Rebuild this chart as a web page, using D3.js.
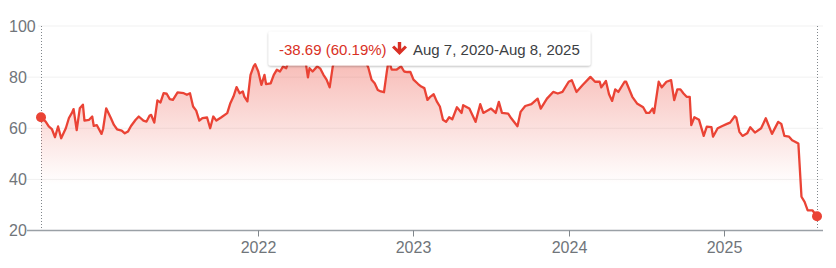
<!DOCTYPE html>
<html lang="en">
  <head>
    <meta charset="utf-8">
    <title>Price 5Y</title>
    <script src="https://d3js.org/d3.v7.min.js"></script>
    <style>
      body { margin: 0; background: #fff; }
      svg text { font-family: 'Liberation Sans', Arial, sans-serif; }
    </style>
  </head>

  <body>
    <div id='chart'></div>

    <script type='text/javascript'>
      // time as decimal years, price
      let years = [2020.60,2020.63,2020.65,2020.67,2020.69,2020.71,2020.73,2020.76,2020.78,2020.80,
                   2020.81,2020.83,2020.85,2020.87,2020.88,2020.91,2020.93,2020.94,2020.96,2020.99,
                   2021.00,2021.02,2021.05,2021.07,2021.09,2021.12,2021.14,2021.16,2021.18,2021.21,
                   2021.23,2021.26,2021.28,2021.30,2021.31,2021.33,2021.35,2021.37,2021.39,2021.41,
                   2021.43,2021.45,2021.48,2021.52,2021.54,2021.56,2021.58,2021.60,2021.62,2021.64,
                   2021.67,2021.69,2021.71,2021.73,2021.76,2021.80,2021.82,2021.84,2021.86,2021.88,
                   2021.90,2021.91,2021.93,2021.95,2021.97,2021.98,2022.00,2022.02,2022.04,2022.05,
                   2022.08,2022.10,2022.12,2022.14,2022.16,2022.18,2022.20,2022.24,2022.27,2022.30,
                   2022.32,2022.33,2022.35,2022.38,2022.40,2022.42,2022.44,2022.46,2022.48,2022.51,
                   2022.56,2022.60,2022.64,2022.68,2022.71,2022.73,2022.75,2022.77,2022.79,2022.81,
                   2022.83,2022.84,2022.86,2022.89,2022.92,2022.94,2022.96,2022.98,2023.00,2023.03,
                   2023.05,2023.07,2023.09,2023.11,2023.13,2023.15,2023.17,2023.19,2023.21,2023.23,
                   2023.25,2023.28,2023.31,2023.32,2023.36,2023.40,2023.43,2023.45,2023.50,2023.53,
                   2023.55,2023.57,2023.61,2023.63,2023.67,2023.69,2023.72,2023.76,2023.80,2023.82,
                   2023.86,2023.90,2023.93,2023.96,2024.00,2024.02,2024.05,2024.09,2024.14,2024.17,
                   2024.20,2024.21,2024.24,2024.26,2024.28,2024.30,2024.32,2024.36,2024.37,2024.41,
                   2024.44,2024.48,2024.50,2024.52,2024.54,2024.55,2024.58,2024.60,2024.63,2024.66,
                   2024.68,2024.70,2024.72,2024.74,2024.76,2024.78,2024.79,2024.81,2024.84,2024.87,
                   2024.89,2024.92,2024.93,2024.96,2024.99,2025.02,2025.04,2025.07,2025.08,2025.10,
                   2025.12,2025.15,2025.17,2025.20,2025.24,2025.27,2025.31,2025.35,2025.37,2025.39,
                   2025.42,2025.44,2025.48,2025.50,2025.52,2025.54,2025.57,2025.60];

      let prices = [64.3,62.6,60.7,59.7,56.5,60.7,56.1,60.0,64.0,66.1,
                    67.5,59.3,67.8,69.2,63.0,63.3,64.6,60.9,61.2,57.8,
                    59.7,67.8,64.0,61.3,59.6,59.1,58.0,58.7,60.9,63.3,
                    64.6,63.0,62.6,65.0,65.2,62.2,70.9,70.1,73.7,73.5,
                    71.4,71.1,74.0,73.7,73.1,73.7,68.5,66.9,63.0,64.0,
                    64.2,60.0,64.6,63.0,64.2,65.9,69.8,72.4,76.1,73.7,
                    74.4,72.4,70.5,80.9,84.2,85.1,82.2,77.0,80.9,77.3,
                    77.6,80.9,82.9,82.2,84.2,83.5,87.0,89.0,86.5,88.0,
                    79.9,83.5,82.2,84.2,83.3,80.9,79.0,76.0,84.2,89.0,
                    91.0,92.0,90.0,88.0,83.5,79.0,77.6,75.0,74.4,74.1,
                    82.9,86.5,82.9,82.9,84.2,82.2,82.0,82.0,79.0,77.3,
                    76.3,75.7,71.1,72.4,73.3,70.5,68.5,63.3,62.5,64.3,
                    63.5,68.2,66.0,69.0,67.7,62.5,69.4,66.0,67.7,66.0,
                    70.3,66.0,65.7,63.9,60.8,66.4,68.7,69.4,71.6,67.7,
                    71.6,74.2,73.6,74.2,78.2,78.8,74.2,76.9,80.1,78.2,
                    78.2,76.0,78.5,73.3,70.7,75.2,74.2,78.2,78.2,72.3,
                    69.7,68.2,66.0,66.0,67.7,65.9,78.2,76.0,78.2,78.8,
                    71.0,75.2,75.2,73.6,72.3,72.3,61.2,64.3,63.3,57.0,
                    60.6,60.4,56.7,60.0,60.9,61.7,62.2,64.7,64.2,58.6,
                    57.0,58.0,60.4,58.3,60.0,63.9,57.8,62.5,61.7,57.0,
                    56.7,55.3,54.0,33.2,31.2,27.9,27.9,25.6];

      let yTicks = [20, 40, 60, 80, 100];
      let xTicks = [2022, 2023, 2024, 2025];
      let changeLabel = '-38.69 (60.19%)';
      let rangeLabel = 'Aug 7, 2020-Aug 8, 2025';

      let width = 836, height = 268;
      let red = '#ea4335';

      let data = years.map((t, i) => ({t: t, v: prices[i]}));

      let svg = d3.select('#chart').append('svg')
        .attr('width', width)
        .attr('height', height);

      let x = d3.scaleLinear().domain([years[0], years[years.length - 1]]).range([41, 817]);
      let y = d3.scaleLinear().domain([20, 100]).range([230.5, 26]);

      let defs = svg.append('defs');
      let grad = defs.append('linearGradient')
        .attr('id', 'fade')
        .attr('gradientUnits', 'userSpaceOnUse')
        .attr('x1', 0).attr('x2', 0)
        .attr('y1', y(95)).attr('y2', y(38));
      grad.append('stop').attr('offset', 0).attr('stop-color', red).attr('stop-opacity', 0.42);
      grad.append('stop').attr('offset', 1).attr('stop-color', red).attr('stop-opacity', 0);

      let shadow = defs.append('filter').attr('id', 'shadow')
        .attr('x', -0.1).attr('y', -0.3).attr('width', 1.2).attr('height', 1.8);
      shadow.append('feDropShadow')
        .attr('dx', 0).attr('dy', 1).attr('stdDeviation', 1.2)
        .attr('flood-color', '#000').attr('flood-opacity', 0.3);

      // gridlines
      svg.append('g')
        .selectAll('line')
        .data(yTicks.slice(1))
        .enter().append('line')
        .attr('x1', d => d == 100 ? 38 : 27)
        .attr('x2', 823)
        .attr('y1', d => y(d))
        .attr('y2', d => y(d))
        .attr('stroke', '#f1f1f1')
        .attr('stroke-width', 1);

      // y labels
      svg.append('g')
        .selectAll('text')
        .data(yTicks)
        .enter().append('text')
        .attr('x', 9)
        .attr('y', d => y(d))
        .attr('dy', '0.36em')
        .attr('font-size', 16)
        .attr('fill', '#70757a')
        .text(d => d);

      // dotted range markers
      svg.append('g')
        .selectAll('line')
        .data([data[0], data[data.length - 1]])
        .enter().append('line')
        .attr('x1', d => Math.round(x(d.t)) + 0.5)
        .attr('x2', d => Math.round(x(d.t)) + 0.5)
        .attr('y1', y(100))
        .attr('y2', y(20))
        .attr('stroke', '#80868b')
        .attr('stroke-width', 1)
        .attr('stroke-dasharray', '1,2');

      let area = d3.area()
        .x(d => x(d.t))
        .y0(y(20))
        .y1(d => y(d.v));

      let line = d3.line()
        .x(d => x(d.t))
        .y(d => y(d.v));

      svg.append('path')
        .datum(data)
        .attr('d', area)
        .attr('fill', 'url(#fade)');

      svg.append('path')
        .datum(data)
        .attr('d', line)
        .attr('fill', 'none')
        .attr('stroke', red)
        .attr('stroke-width', 2.3)
        .attr('stroke-linejoin', 'round');

      // x axis
      svg.append('line')
        .attr('x1', 27).attr('x2', 823)
        .attr('y1', y(20)).attr('y2', y(20))
        .attr('stroke', '#9aa0a6')
        .attr('stroke-width', 1.4);

      let xg = svg.append('g')
        .selectAll('g')
        .data(xTicks)
        .enter().append('g')
        .attr('transform', d => 'translate(' + (Math.round(x(d)) + 0.5) + ',0)');
      xg.append('line')
        .attr('y1', y(20)).attr('y2', y(20) + 6)
        .attr('stroke', '#80868b');
      xg.append('text')
        .attr('y', 247.5)
        .attr('dy', '0.36em')
        .attr('text-anchor', 'middle')
        .attr('font-size', 16)
        .attr('fill', '#70757a')
        .text(d => d);

      // end dots
      svg.append('g')
        .selectAll('circle')
        .data([data[0], data[data.length - 1]])
        .enter().append('circle')
        .attr('cx', d => x(d.t))
        .attr('cy', d => y(d.v))
        .attr('r', 5)
        .attr('fill', red);

      // tooltip
      let tip = svg.append('g');
      tip.append('rect')
        .attr('x', 268.5).attr('y', 31.5)
        .attr('width', 322).attr('height', 34)
        .attr('rx', 2)
        .attr('fill', '#fff')
        .attr('filter', 'url(#shadow)');
      tip.append('text')
        .attr('x', 279).attr('y', 55)
        .attr('font-size', 15)
        .attr('fill', '#d93025')
        .text(changeLabel);
      tip.append('path')
        .attr('d', 'M397.8,42 h3.4 v7 l3.6,-3.6 l2.2,2.2 l-7.5,7.5 l-7.5,-7.5 l2.2,-2.2 l3.6,3.6 z')
        .attr('fill', '#d93025');
      tip.append('text')
        .attr('x', 413).attr('y', 55)
        .attr('font-size', 15)
        .attr('fill', '#3c4043')
        .text(rangeLabel);
    </script>
  </body>
</html>
